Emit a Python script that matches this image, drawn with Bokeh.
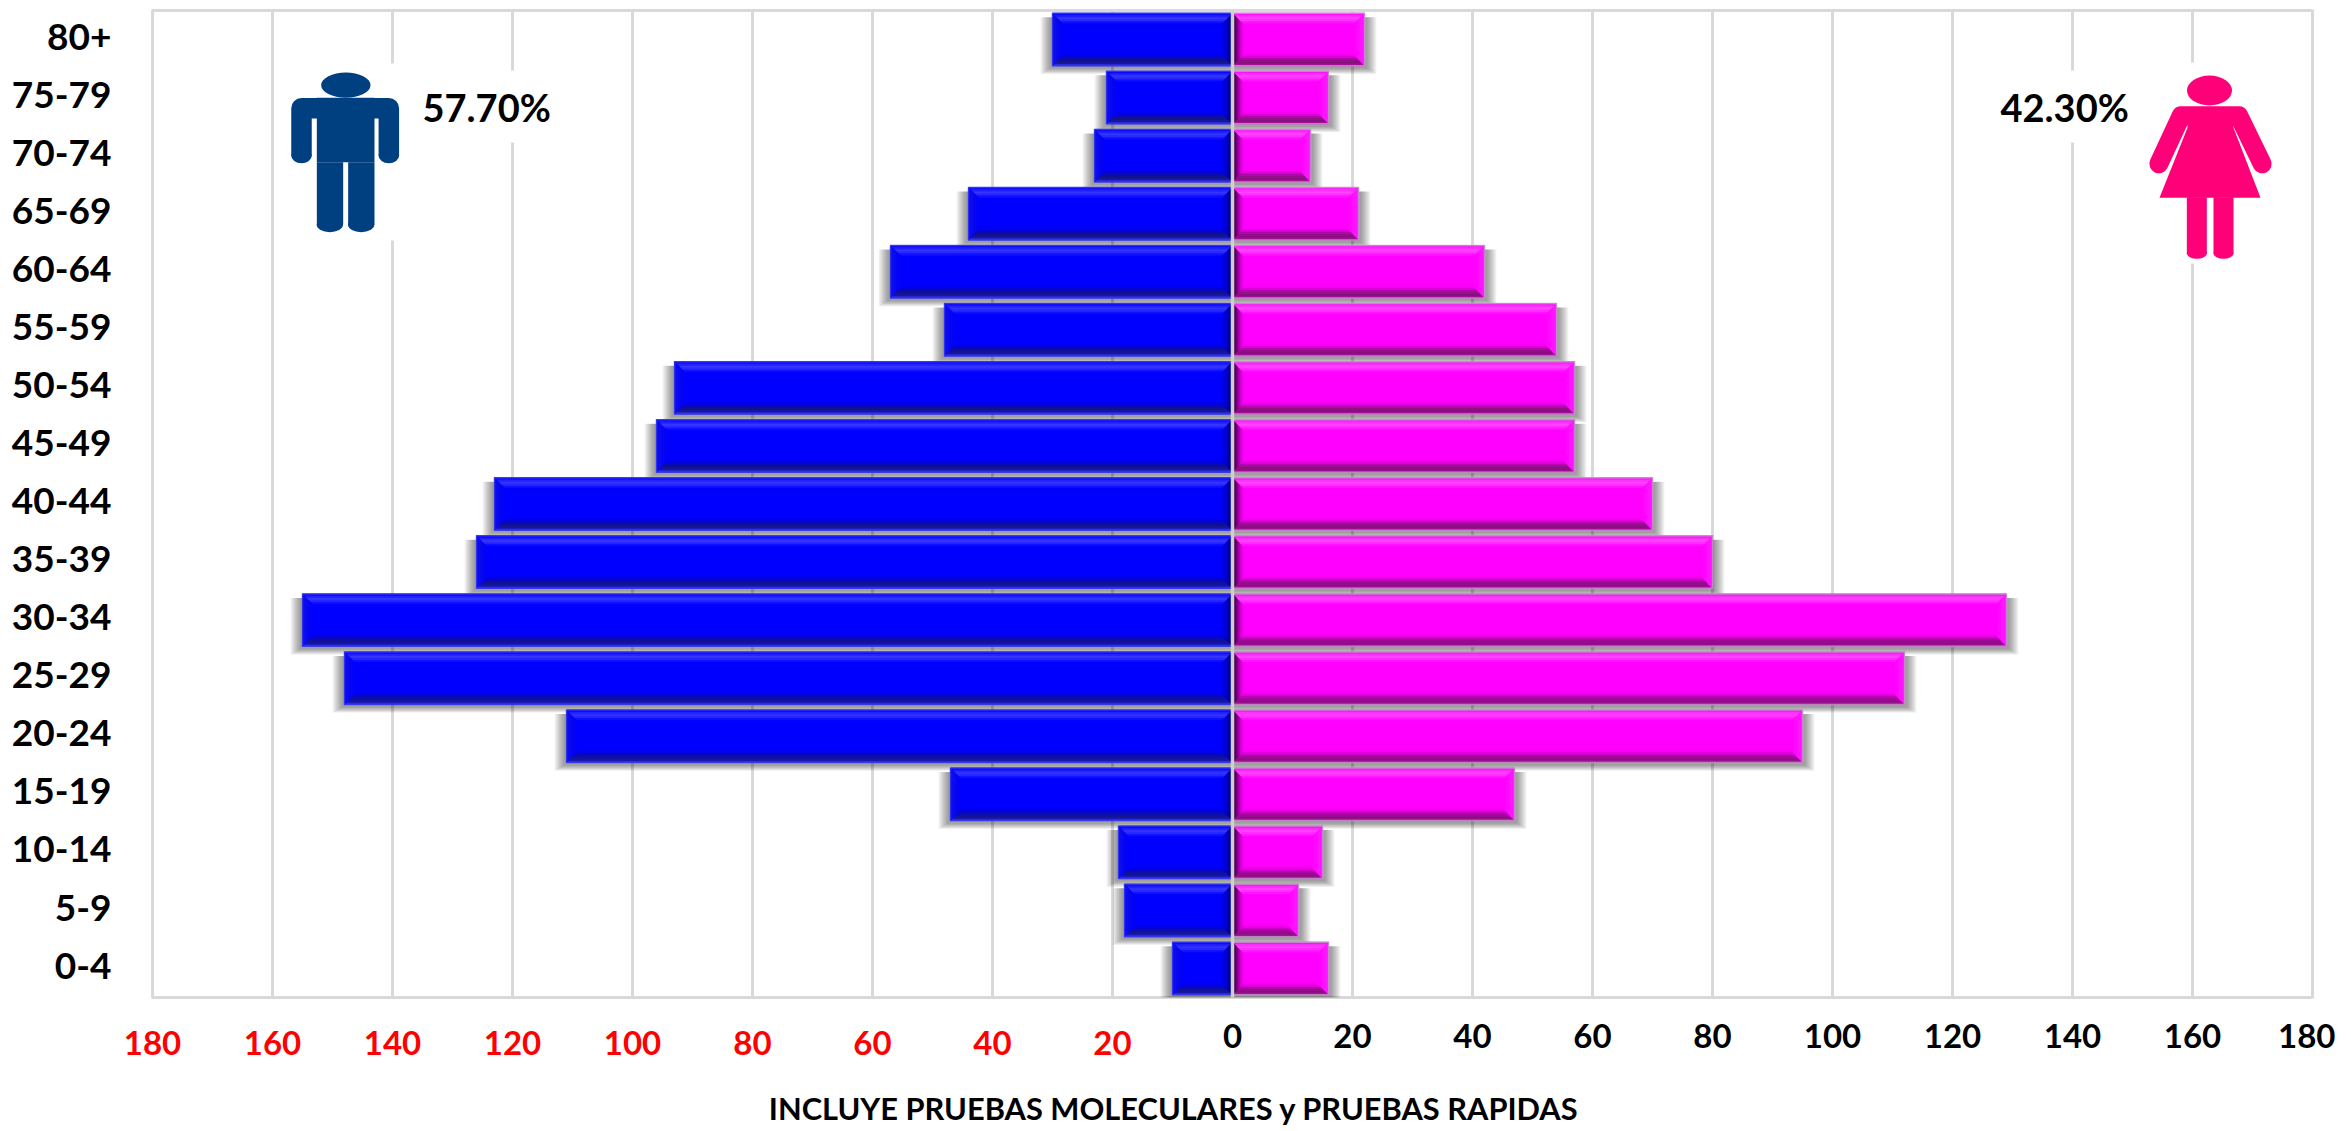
from bokeh.plotting import figure
from bokeh.embed import file_html
from bokeh.resources import INLINE
from bokeh.models import LinearAxis, FixedTicker, Range1d, Grid
from bokeh.core.properties import value

ages = ["0-4","5-9","10-14","15-19","20-24","25-29","30-34","35-39","40-44","45-49","50-54","55-59","60-64","65-69","70-74","75-79","80+"]
male = [10,18,19,47,111,148,155,126,123,96,93,48,57,44,23,21,30]
female = [16,11,15,47,95,112,129,80,70,57,57,54,42,21,13,16,22]
left_ticks = [-180,-160,-140,-120,-100,-80,-60,-40,-20]
right_ticks = [0,20,40,60,80,100,120,140,160,180]
male_share = "57.70%"
female_share = "42.30%"
note = "INCLUYE PRUEBAS MOLECULARES y PRUEBAS RAPIDAS"

FONT = "Lato"
GRID = "#d9d9d9"
XPX = 6.0          # pixels per unit
YPX = 987 / 17     # pixels per row
HALF = 0.452
BEV_X = 12 / XPX
BEV_Y = 12.5 / YPX
YLAB_SHIFT = 0.05
NOTE_AT = -9.75

p = figure(width=2335, height=1131, output_backend="svg", toolbar_location=None,
           x_range=Range1d(-180, 180), y_range=Range1d(-0.5, 16.5),
           min_border_left=152, min_border_right=23, min_border_top=10, min_border_bottom=134,
           x_axis_location=None, y_axis_location=None, background_fill_color="white")
p.outline_line_color = GRID
p.outline_line_width = 3

# axes
ytick_pos = [i + YLAB_SHIFT for i in range(len(ages))]
yaxis = LinearAxis(ticker=FixedTicker(ticks=ytick_pos),
                   major_label_overrides={t: a for t, a in zip(ytick_pos, ages)})
yaxis.axis_line_color = None
yaxis.major_tick_line_color = None
yaxis.minor_tick_line_color = None
yaxis.major_label_text_font = FONT
yaxis.major_label_text_font_style = "bold"
yaxis.major_label_text_font_size = "37px"
yaxis.major_label_text_color = "black"
yaxis.major_label_standoff = 35
p.add_layout(yaxis, "left")

def xaxis(ticks, labels, color, standoff, size):
    a = LinearAxis(ticker=FixedTicker(ticks=ticks),
                   major_label_overrides=dict(zip(ticks, labels)))
    a.axis_line_color = None
    a.major_tick_line_color = None
    a.minor_tick_line_color = None
    a.major_label_text_font = FONT
    a.major_label_text_font_style = "bold"
    a.major_label_text_font_size = size
    a.major_label_text_color = color
    a.major_label_standoff = standoff
    p.add_layout(a, "below")
    return a

xaxis(left_ticks, [str(abs(t)) for t in left_ticks], "#ff0000", 27, "33px")
xaxis(right_ticks, [str(t) for t in right_ticks], "#000000", -40, "33px")
xaxis([NOTE_AT], [note], "#000000", 26, "30.8px")

p.xgrid.visible = False
p.ygrid.visible = False
p.add_layout(Grid(dimension=0, ticker=FixedTicker(ticks=left_ticks + right_ticks),
                  grid_line_color=GRID, grid_line_width=3))

# pixel helpers for decoration
def dx(X): return (X - 1233) / XPX
def dy(Y): return -0.5 + (997 - Y) / YPX

# white boxes behind pictures/texts
for X0, X1, Y0, Y1 in [(283, 402, 63, 240), (402, 555, 70, 142), (1995, 2140, 70, 142), (2140, 2270, 62, 263)]:
    p.quad(left=dx(X0), right=dx(X1), top=dy(Y0), bottom=dy(Y1), fill_color="white", line_color=None)

# shadows
def shadow(vals, sign):
    for e in range(0, 10):
        off = 3
        xo = sign * off / XPX
        ex = e / XPX
        ey = e * 0.6 / YPX
        lefts, rights, tops, bots = [], [], [], []
        for i, v in enumerate(vals):
            if sign > 0:
                lefts.append(0); rights.append(v + xo + ex)
            else:
                lefts.append(-v + xo - ex); rights.append(0)
            tops.append(i + HALF - 4 / YPX)
            bots.append(i - HALF - off / YPX - ey)
        p.quad(left=lefts, right=rights, top=tops, bottom=bots,
               fill_color="black", fill_alpha=0.045, line_color=None)

shadow(male, -1)
shadow(female, 1)

# bevelled bars
def bars(vals, sign, base, stroke, top_c, bot_c, out_c, in_c):
    xs, ys, cs = [], [], []
    for i, v in enumerate(vals):
        x0, x1 = (-v, 0) if sign < 0 else (0, v)
        y0, y1 = i - HALF, i + HALF
        xs.append([x0, x1, x1, x0]); ys.append([y0, y0, y1, y1]); cs.append(base)
        left_c, right_c = (out_c, in_c) if sign < 0 else (in_c, out_c)
        def strips(cols, face):
            n_ = len(cols)
            for k, c in enumerate(cols):
                t0, t1 = k / n_, (k + 1) / n_
                a0, a1 = t0 * BEV_X, t1 * BEV_X
                b0, b1 = t0 * BEV_Y, t1 * BEV_Y
                if face == "top":
                    xs.append([x0 + a0, x1 - a0, x1 - a1, x0 + a1]); ys.append([y1 - b0, y1 - b0, y1 - b1, y1 - b1])
                elif face == "bottom":
                    xs.append([x0 + a0, x1 - a0, x1 - a1, x0 + a1]); ys.append([y0 + b0, y0 + b0, y0 + b1, y0 + b1])
                elif face == "left":
                    xs.append([x0 + a0, x0 + a1, x0 + a1, x0 + a0]); ys.append([y0 + b0, y0 + b1, y1 - b1, y1 - b0])
                else:
                    xs.append([x1 - a0, x1 - a1, x1 - a1, x1 - a0]); ys.append([y0 + b0, y0 + b1, y1 - b1, y1 - b0])
                cs.append(c)
        strips(top_c, "top"); strips(bot_c, "bottom"); strips(left_c, "left"); strips(right_c, "right")
    p.patches(xs, ys, fill_color=cs, line_color=cs, line_width=0.5)
    lefts = [(-v if sign < 0 else 0) for v in vals]
    rights = [(0 if sign < 0 else v) for v in vals]
    p.quad(left=lefts, right=rights, top=[i + HALF for i in range(len(vals))],
           bottom=[i - HALF for i in range(len(vals))], fill_color=None, line_color=stroke, line_width=1.5, line_alpha=0.8)

bars(male, -1, "#0000ff", "#3a3af0",
     ["#0808ff", "#2222ff", "#3636ff", "#2a2aff", "#1010ff", "#0000ff"],
     ["#2a2ae0", "#18189a", "#14148e", "#0c0cb0", "#0404d8", "#0000f4"],
     ["#0808f4", "#0c0cf0", "#0808e8", "#0404f0", "#0202f8", "#0000ff"],
     ["#00006a", "#000088", "#0000a8", "#0000c8", "#0000e4", "#0000f8"])
bars(female, 1, "#ff00ff", "#b9a0c0",
     ["#ff10ff", "#ff30ff", "#ff44ff", "#ff30ff", "#ff14ff", "#ff00ff"],
     ["#a8109c", "#88107f", "#901088", "#b008a8", "#dc04d8", "#f800f4"],
     ["#ff10ff", "#ff18ff", "#ff10ff", "#ff08ff", "#ff04ff", "#ff00ff"],
     ["#300040", "#4c0058", "#780078", "#a800a8", "#d800d8", "#f800f8"])

# centre line
p.segment(x0=[0], x1=[0], y0=[-0.5], y1=[16.5], line_color="#cfcfcf", line_width=3.5)

# male icon
BLUE = "#004080"
def mx(z): return dx(250 + z / 3)
def my(z): return dy(40 + z / 3)
p.ellipse(x=[mx(289)], y=[my(134)], width=148 / 3 / XPX, height=76 / 3 / YPX, fill_color=BLUE, line_color=None)
p.line([mx(156), mx(156), mx(418), mx(418)], [my(345), my(203), my(203), my(345)],
       line_color=BLUE, line_width=20.5, line_join="round", line_cap="butt")
p.ellipse(x=[mx(156), mx(418)], y=[my(345)] * 2, width=62 / 3 / XPX, height=46 / 3 / YPX, fill_color=BLUE, line_color=None)
p.quad(left=[mx(202)], right=[mx(375)], top=[my(172)], bottom=[my(365)], fill_color=BLUE, line_color=None)
p.quad(left=[mx(202), mx(296)], right=[mx(281), mx(375)], top=[my(365)] * 2, bottom=[my(553)] * 2, fill_color=BLUE, line_color=None)
p.ellipse(x=[mx(241), mx(335)], y=[my(553)] * 2, width=79 / 3 / XPX, height=44 / 3 / YPX, fill_color=BLUE, line_color=None)

# female icon
PINK = "#ff0078"
def fx(z): return dx(1950 + z / 3)
def fy(z): return dy(40 + z / 3)
p.ellipse(x=[fx(780)], y=[fy(150)], width=135 / 3 / XPX, height=90 / 3 / YPX, fill_color=PINK, line_color=None)
p.line([fx(628), fx(695), fx(868), fx(938)], [fy(370), fy(226), fy(226), fy(370)],
       line_color=PINK, line_width=19, line_join="round", line_cap="round")
p.patch([fx(715), fx(848), fx(852), fx(933), fx(630), fx(714)],
        [fy(226), fy(226), fy(262), fy(472), fy(472), fy(262)], fill_color=PINK, line_color=None)
p.quad(left=[fx(712), fx(792)], right=[fx(772), fx(852)], top=[fy(470)] * 2, bottom=[fy(638)] * 2, fill_color=PINK, line_color=None)
p.ellipse(x=[fx(742), fx(822)], y=[fy(638)] * 2, width=60 / 3 / XPX, height=34 / 3 / YPX, fill_color=PINK, line_color=None)

# share labels
p.text(x=[dx(423)], y=[dy(106)], text=[male_share], text_font=value(FONT), text_font_style="bold",
       text_font_size="38px", text_color="black", text_align="left", text_baseline="middle")
p.text(x=[dx(2001)], y=[dy(106)], text=[female_share], text_font=value(FONT), text_font_style="bold",
       text_font_size="38px", text_color="black", text_align="left", text_baseline="middle")

open("out.html", "w").write(file_html(p, INLINE))
